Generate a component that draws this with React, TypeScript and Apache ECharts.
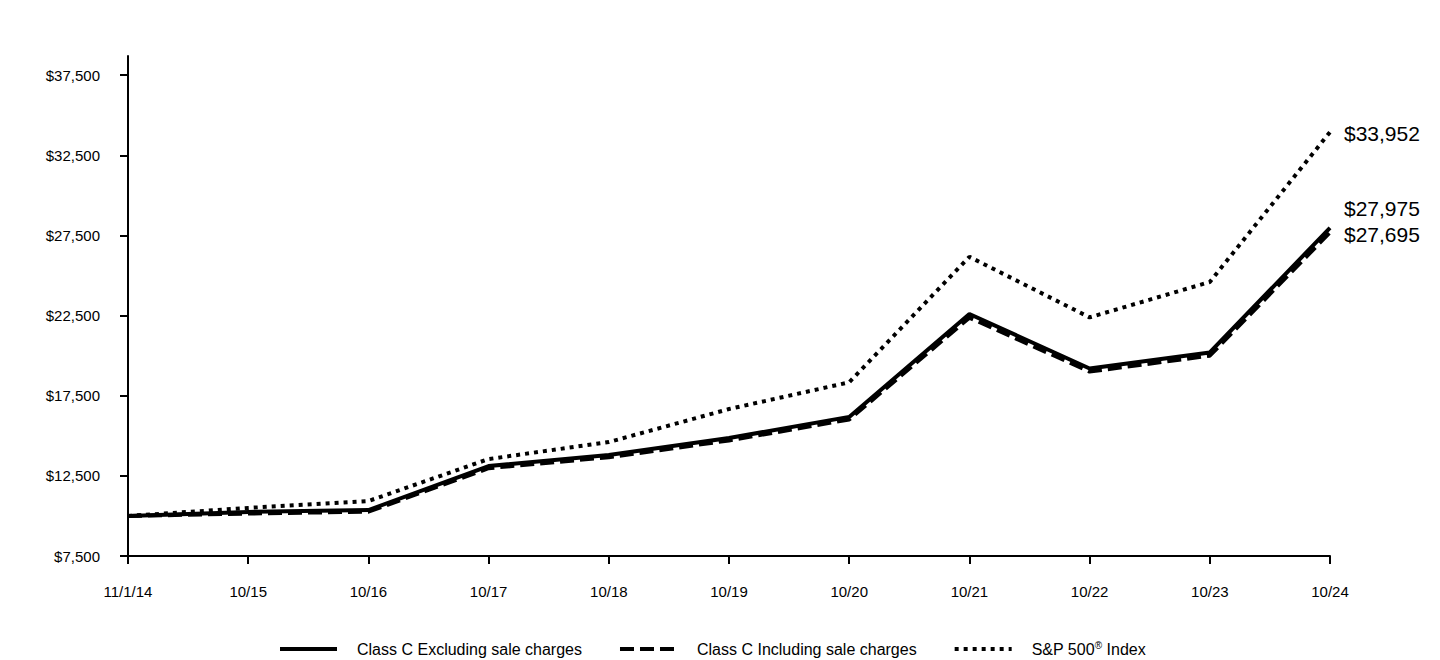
import React, { useEffect, useRef } from "react";
import * as echarts from "echarts";

const categories = ["11/1/14", "10/15", "10/16", "10/17", "10/18", "10/19", "10/20", "10/21", "10/22", "10/23", "10/24"];
const classCExcl = [10000, 10250, 10370, 13110, 13800, 14860, 16180, 22600, 19200, 20200, 27975];
const classCIncl = [10000, 10148, 10266, 12979, 13662, 14711, 16018, 22374, 19008, 19998, 27695];
const sp500 = [10000, 10500, 10930, 13550, 14610, 16670, 18340, 26170, 22390, 24600, 33952];
const yTicks = [7500, 12500, 17500, 22500, 27500, 32500, 37500];

const FONT = "'Liberation Sans', Arial, sans-serif";
const money = (v: number) => "$" + Math.round(v).toLocaleString("en-US");

export default function App() {
  const ref = useRef<HTMLDivElement>(null);
  useEffect(() => {
    if (!ref.current) return;
    const chart = echarts.init(ref.current, null, { renderer: "svg" });
    const endLabel = (dy: number) => ({
      show: true,
      formatter: (p: any) => money(p.value),
      fontFamily: FONT,
      fontSize: 21,
      color: "#000",
      offset: [6, dy],
    });
    chart.setOption({
      animation: false,
      backgroundColor: "#fff",
      textStyle: { fontFamily: FONT },
      grid: { left: 128, right: 110, top: 56, bottom: 104 },
      legend: {
        bottom: 2,
        left: 278,
        padding: 0,
        itemWidth: 57,
        itemHeight: 14,
        itemGap: 36,
        itemStyle: { color: "transparent", borderWidth: 0, opacity: 0 },
        lineStyle: { width: 4 },
        textStyle: {
          fontFamily: FONT,
          fontSize: 16,
          lineHeight: 18,
          color: "#000",
          padding: [0, 0, 0, 15],
          rich: { sup: { fontSize: 10, lineHeight: 18, verticalAlign: "top", fontFamily: FONT, color: "#000" } },
        },
        formatter: (name: string) => (name === "S&P 500® Index" ? "S&P 500{sup|®} Index" : name),
        data: ["Class C Excluding sale charges", "Class C Including sale charges", "S&P 500® Index"],
      },
      xAxis: {
        type: "category",
        data: categories,
        boundaryGap: false,
        axisLine: { lineStyle: { color: "#000", width: 2 } },
        axisTick: { show: true, alignWithLabel: true, length: 8, lineStyle: { color: "#000", width: 2 } },
        axisLabel: { color: "#000", fontSize: 15, fontFamily: FONT, margin: 28 },
        splitLine: { show: false },
      },
      yAxis: {
        type: "value",
        min: 7500,
        max: 38700,
        axisLine: { show: true, lineStyle: { color: "#000", width: 2 } },
        axisTick: { show: true, length: 8, customValues: yTicks, lineStyle: { color: "#000", width: 2 } },
        axisLabel: {
          color: "#000",
          fontSize: 15,
          fontFamily: FONT,
          margin: 28,
          customValues: yTicks,
          formatter: (v: number) => money(v),
        },
        splitLine: { show: false },
      },
      series: [
        {
          name: "S&P 500® Index",
          type: "line",
          data: sp500,
          symbol: "none",
          lineStyle: { color: "#000", width: 4, type: [4, 5] },
          itemStyle: { color: "#000" },
          endLabel: endLabel(1),
        },
        {
          name: "Class C Excluding sale charges",
          type: "line",
          data: classCExcl,
          symbol: "none",
          lineStyle: { color: "#000", width: 4, type: "solid" },
          itemStyle: { color: "#000" },
          endLabel: endLabel(-19),
        },
        {
          name: "Class C Including sale charges",
          type: "line",
          data: classCIncl,
          symbol: "none",
          lineStyle: { color: "#000", width: 4, type: [14, 6] },
          itemStyle: { color: "#000" },
          endLabel: endLabel(2),
        },
      ],
    });
    return () => chart.dispose();
  }, []);
  return <div ref={ref} style={{ width: 1440, height: 660, position: "absolute", left: 0, top: 0 }} />;
}
